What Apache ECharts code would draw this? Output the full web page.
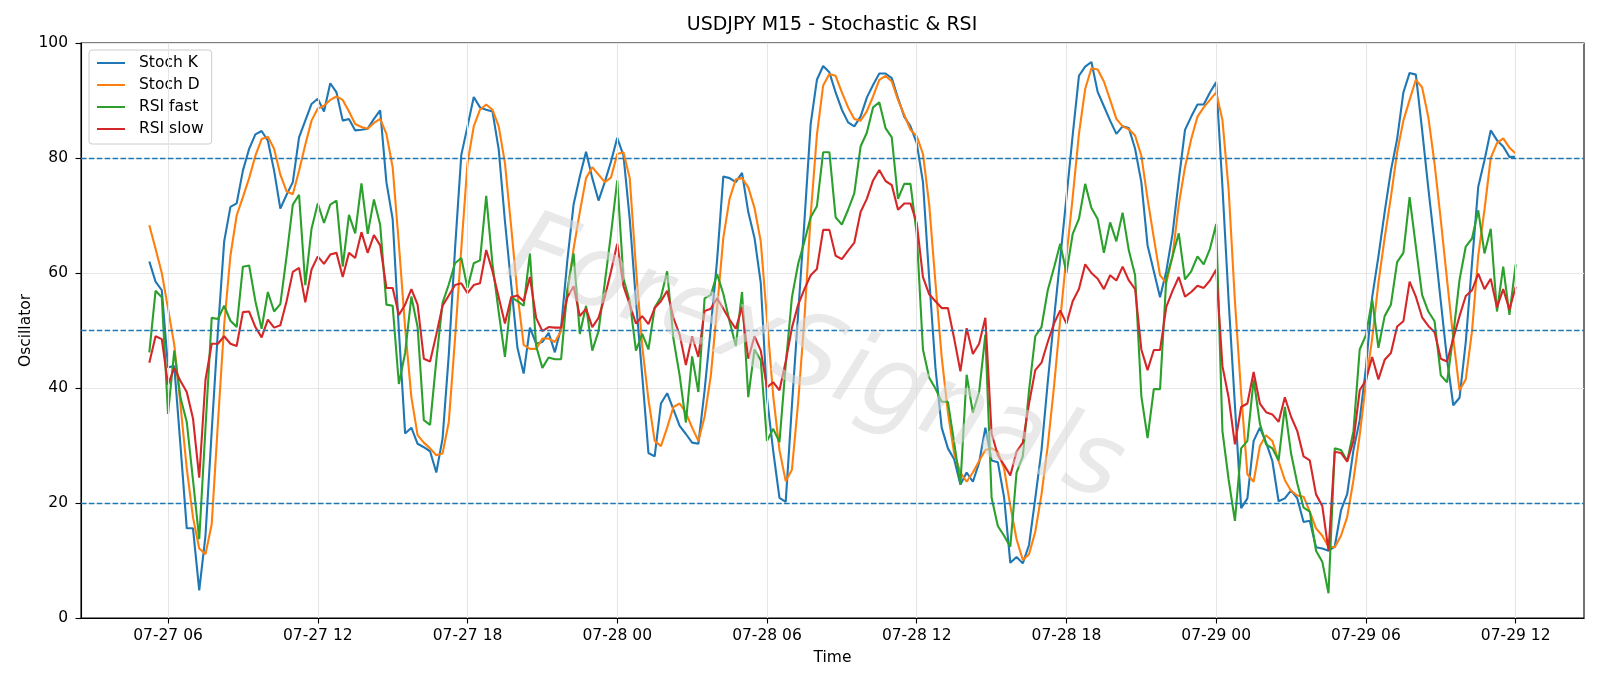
<!DOCTYPE html>
<html>
<head>
<meta charset="utf-8">
<script src="https://cdn.jsdelivr.net/npm/echarts@6/dist/echarts.min.js"></script>
<style>
  html, body { margin: 0; padding: 0; background: #fff; }
  #chart { width: 1600px; height: 686px; }
</style>
</head>
<body>
<div id="chart"></div>
<script>
// 15 minute bars, first bar 07-27 05:15, hours counted from 07-27 00:00
const startHour = 5.25
const stepHour = 0.25

const tickHours = [6, 12, 18, 24, 30, 36, 42, 48, 54, 60]
const tickLabels = ['07-27 06', '07-27 12', '07-27 18', '07-28 00', '07-28 06',
  '07-28 12', '07-28 18', '07-29 00', '07-29 06', '07-29 12']

const levels = [20, 50, 80]

const stochK = [
  62.0, 58.5, 57.0, 43.6, 43.8, 29.9, 15.6, 15.6, 4.8, 14.3,
  32.5, 50.0, 65.5, 71.5, 72.1, 77.8, 81.6, 84.1, 84.7, 83.0,
  77.8, 71.2, 73.6, 75.8, 83.6, 86.5, 89.4, 90.3, 88.1, 93.0,
  91.4, 86.5, 86.8, 84.8, 84.9, 85.1, 86.8, 88.3, 75.8, 69.4,
  50.0, 32.1, 33.1, 30.3, 29.7, 29.0, 25.3, 31.2, 45.8, 64.2,
  80.5, 85.5, 90.6, 88.8, 88.4, 88.1, 81.5, 69.0, 58.0, 47.0,
  42.5, 50.5, 47.7, 48.0, 49.6, 46.2, 50.5, 62.2, 71.9, 76.8,
  81.1, 76.5, 72.6, 75.8, 79.4, 83.5, 80.4, 69.4, 55.1, 42.2,
  28.7, 28.1, 37.3, 39.1, 36.3, 33.4, 32.0, 30.5, 30.3, 39.6,
  50.6, 62.2, 76.8, 76.5, 75.8, 77.4, 70.6, 66.1, 58.3, 38.3,
  29.0, 20.9, 20.2, 37.0, 53.0, 69.0, 85.9, 93.6, 96.0, 94.9,
  91.4, 88.4, 86.2, 85.5, 87.2, 90.5, 92.7, 94.7, 94.7, 93.9,
  90.4, 87.2, 85.5, 82.6, 75.8, 59.0, 43.5, 33.1, 29.5, 27.6,
  23.2, 25.3, 23.7, 27.0, 33.1, 27.4, 27.1, 21.0, 9.6, 10.6,
  9.5, 12.7, 20.8, 29.2, 41.0, 52.0, 62.5, 73.2, 84.0, 94.3,
  95.9, 96.7, 91.5, 89.0, 86.5, 84.2, 85.5, 85.2, 81.6, 75.8,
  64.8, 60.3, 55.8, 60.3, 66.8, 76.1, 84.9, 87.2, 89.3, 89.3,
  91.4, 93.2, 75.0, 55.0, 37.0, 19.1, 20.8, 30.8, 33.1, 30.5,
  27.3, 20.3, 20.8, 22.2, 20.8, 16.7, 16.9, 12.3, 12.1, 11.7,
  12.4, 18.7, 21.6, 29.2, 34.4, 43.5, 55.8, 62.9, 70.6, 77.8,
  83.3, 91.4, 94.8, 94.5, 84.9, 74.7, 65.1, 55.0, 45.0, 37.0,
  38.3, 48.0, 61.7, 75.0, 79.6, 84.8, 83.1, 82.0, 80.2, 80.2
]

const stochD = [
  68.3, 64.2, 60.0, 53.8, 47.5, 37.0, 26.0, 17.5, 12.1, 11.1,
  16.3, 34.0, 51.0, 63.0, 70.0, 73.2, 76.5, 80.4, 83.3, 83.7,
  81.6, 77.1, 74.2, 73.7, 77.8, 82.3, 86.5, 88.6, 89.1, 90.1,
  90.7, 90.1, 88.1, 85.9, 85.4, 85.1, 86.1, 86.8, 84.2, 78.4,
  65.0, 50.5, 38.4, 31.8, 30.5, 29.5, 28.3, 28.6, 34.1, 48.6,
  64.2, 79.1, 85.5, 88.4, 89.3, 88.4, 85.5, 79.1, 68.0, 56.4,
  47.5, 46.8, 46.8, 48.6, 48.6, 48.0, 49.9, 56.4, 64.2, 70.6,
  76.5, 78.4, 77.1, 75.8, 76.6, 80.7, 81.0, 76.5, 60.9, 47.3,
  38.0, 30.8, 29.9, 33.1, 36.7, 37.3, 35.7, 33.1, 30.8, 35.0,
  42.2, 53.8, 66.1, 72.9, 76.3, 76.5, 74.9, 71.3, 65.5, 52.0,
  38.6, 29.2, 23.8, 25.8, 37.6, 52.0, 70.0, 84.0, 92.6, 94.6,
  94.3, 91.4, 88.8, 86.8, 86.5, 88.1, 90.7, 93.6, 94.3, 93.3,
  90.1, 87.5, 84.9, 83.8, 80.7, 71.9, 58.3, 45.4, 35.7, 28.6,
  25.3, 23.7, 25.3, 27.3, 29.2, 29.5, 28.9, 26.0, 19.5, 13.7,
  10.1, 11.1, 15.0, 21.5, 29.9, 40.2, 51.9, 62.9, 73.2, 84.2,
  92.0, 95.6, 95.4, 93.3, 90.1, 86.8, 85.5, 85.0, 83.9, 80.4,
  72.9, 66.1, 59.6, 58.3, 62.9, 71.9, 78.4, 83.3, 87.2, 88.8,
  90.1, 91.4, 86.6, 74.4, 55.1, 39.0, 25.0, 23.7, 29.9, 31.8,
  30.8, 27.3, 24.0, 22.1, 21.3, 21.1, 18.5, 15.6, 14.3, 12.4,
  12.3, 14.3, 17.6, 24.0, 31.8, 40.9, 48.6, 58.3, 66.1, 73.2,
  81.0, 86.5, 90.1, 93.6, 92.3, 87.1, 79.0, 69.2, 58.8, 48.6,
  39.6, 41.5, 49.9, 63.0, 71.0, 80.0, 82.6, 83.4, 81.8, 80.8
]

const rsiFast = [
  46.2, 56.9, 55.8, 35.5, 46.5, 38.3, 34.1, 24.0, 13.7, 33.0,
  52.2, 52.0, 54.3, 51.7, 50.6, 61.1, 61.3, 55.1, 50.3, 56.7,
  53.3, 54.6, 62.9, 71.9, 73.6, 57.9, 67.7, 72.1, 68.7, 71.9,
  72.6, 61.1, 70.1, 66.9, 75.6, 66.8, 72.8, 68.4, 54.5, 54.3,
  40.7, 46.1, 55.9, 50.6, 34.4, 33.6, 44.8, 54.8, 58.0, 61.7,
  62.6, 57.4, 61.7, 62.2, 73.4, 61.6, 53.2, 45.4, 55.8, 55.1,
  54.3, 63.4, 47.3, 43.5, 45.3, 45.0, 45.0, 57.1, 63.4, 49.4,
  54.3, 46.5, 49.9, 58.3, 66.8, 76.1, 59.0, 55.1, 46.5, 49.4,
  46.7, 54.0, 55.8, 60.3, 48.6, 42.2, 34.0, 45.5, 39.3, 55.6,
  56.2, 59.8, 56.4, 51.6, 47.3, 56.7, 38.4, 46.7, 44.8, 30.8,
  32.9, 30.6, 44.0, 55.8, 61.6, 65.5, 69.7, 71.6, 81.0, 81.0,
  69.7, 68.4, 71.0, 73.9, 82.0, 84.4, 88.8, 89.7, 85.2, 83.6,
  72.9, 75.5, 75.5, 66.8, 46.7, 41.8, 39.9, 37.6, 37.6, 30.5,
  23.2, 42.3, 35.7, 39.3, 49.3, 20.9, 16.0, 14.3, 12.4, 25.3,
  28.1, 39.6, 49.0, 50.6, 57.0, 60.9, 65.1, 60.0, 66.8, 69.4,
  75.5, 71.3, 69.4, 63.5, 68.8, 65.5, 70.5, 63.9, 59.6, 38.6,
  31.3, 39.8, 39.8, 59.0, 62.9, 66.9, 58.9, 60.3, 62.9, 61.5,
  64.2, 68.5, 32.5, 24.0, 16.9, 29.5, 30.8, 41.5, 33.8, 30.2,
  29.5, 27.4, 36.7, 28.6, 23.4, 19.2, 18.5, 11.7, 9.8, 4.3,
  29.5, 29.2, 27.3, 32.5, 46.7, 49.2, 55.4, 47.0, 52.5, 54.5,
  61.9, 63.5, 73.2, 64.6, 56.2, 53.3, 51.6, 42.2, 41.0, 49.3,
  58.8, 64.6, 66.0, 70.9, 63.4, 67.7, 53.3, 61.1, 52.7, 61.5
]

const rsiSlow = [
  44.4, 49.0, 48.5, 40.6, 43.5, 41.2, 39.3, 34.7, 24.4, 41.4,
  47.7, 47.7, 49.0, 47.7, 47.3, 53.2, 53.3, 50.6, 48.8, 51.9,
  50.5, 50.9, 55.1, 60.2, 60.9, 54.9, 60.6, 62.9, 61.6, 63.2,
  63.5, 59.3, 63.5, 62.6, 67.1, 63.5, 66.6, 64.8, 57.4, 57.4,
  52.7, 54.5, 57.2, 54.5, 45.1, 44.6, 49.3, 54.3, 56.1, 57.9,
  58.2, 56.5, 57.9, 58.2, 64.0, 60.3, 55.8, 51.2, 55.8, 56.1,
  55.1, 59.3, 52.2, 49.9, 50.6, 50.5, 50.5, 55.8, 57.7, 52.5,
  53.8, 50.6, 52.2, 55.8, 60.3, 65.1, 57.7, 54.5, 51.2, 52.5,
  51.1, 53.9, 55.1, 56.9, 52.2, 49.3, 44.0, 49.0, 45.4, 53.4,
  53.8, 55.6, 53.8, 51.9, 50.3, 54.1, 45.1, 49.0, 46.5, 40.1,
  41.0, 39.6, 44.6, 50.5, 54.5, 57.2, 59.6, 60.7, 67.5, 67.5,
  63.0, 62.4, 63.9, 65.3, 70.6, 72.9, 76.1, 77.9, 76.0, 75.3,
  71.0, 72.1, 72.1, 68.7, 59.3, 56.3, 55.1, 53.9, 53.9, 48.6,
  42.9, 50.4, 45.9, 47.7, 52.2, 32.1, 28.3, 26.6, 24.8, 28.9,
  30.5, 37.3, 43.1, 44.4, 48.0, 51.2, 53.5, 51.2, 55.1, 57.2,
  61.5, 60.0, 59.0, 57.2, 59.6, 58.7, 61.1, 58.7, 57.2, 46.7,
  43.1, 46.6, 46.6, 54.1, 56.9, 59.3, 55.9, 56.7, 57.8, 57.4,
  58.7, 60.6, 43.8, 38.3, 30.2, 36.7, 37.3, 42.8, 37.3, 35.8,
  35.4, 34.1, 38.4, 35.0, 32.5, 28.1, 27.4, 21.5, 19.5, 11.7,
  28.9, 28.7, 27.2, 30.8, 39.6, 41.4, 45.4, 41.5, 44.9, 46.1,
  50.7, 51.6, 58.5, 55.9, 52.3, 50.8, 49.7, 45.1, 44.6, 48.6,
  52.5, 56.0, 57.0, 59.9, 57.2, 59.0, 54.0, 57.2, 53.6, 57.6
]

const names = ['Stoch K', 'Stoch D', 'RSI fast', 'RSI slow']
const colors = ['#1f77b4', '#ff7f0e', '#2ca02c', '#d62728']
const font = 'DejaVu Sans'
const fs = 15.5

const hourOf = (i) => startHour + i * stepHour
const pairs = (arr) => arr.map((v, i) => [hourOf(i), v])

// matplotlib style 5% margin on the time axis
const firstHour = hourOf(0)
const lastHour = hourOf(stochK.length - 1)
const pad = (lastHour - firstHour) * 0.05

const chart = echarts.init(document.getElementById('chart'), null, {renderer: 'canvas'})

const lineSeries = [stochK, stochD, rsiFast, rsiSlow].map((arr, k) => ({
  name: names[k],
  type: 'line',
  data: pairs(arr),
  showSymbol: false,
  symbol: 'none',
  color: colors[k],
  lineStyle: {width: 2.1, color: colors[k]},
  z: 3
}))

// level lines on the first series
lineSeries[0].markLine = {
  silent: true,
  symbol: 'none',
  label: {show: false},
  lineStyle: {color: '#1f77b4', type: [5.5, 2.4], width: 1.4},
  data: levels.map(v => ({yAxis: v}))
}

// vertical grid lines at the time ticks
const gridSeries = {
  name: 'grid',
  type: 'line',
  data: [],
  z: 1,
  markLine: {
    silent: true,
    symbol: 'none',
    label: {show: false},
    lineStyle: {color: '#e6e6e6', type: 'solid', width: 1.1},
    data: tickHours.map(h => ({xAxis: h}))
  }
}

chart.setOption({
  animation: false,
  backgroundColor: '#ffffff',
  title: {
    text: 'USDJPY M15 - Stochastic & RSI',
    left: 832,
    top: 16,
    padding: 0,
    textAlign: 'center',
    textStyle: {fontFamily: font, fontSize: 19, fontWeight: 'normal', color: '#000'}
  },
  legend: {
    data: names,
    orient: 'vertical',
    left: 89,
    top: 50,
    itemWidth: 28,
    itemHeight: 14,
    itemGap: 6,
    padding: [5, 8, 7, 7],
    backgroundColor: 'rgba(255,255,255,0.8)',
    borderColor: '#cccccc',
    borderWidth: 1,
    borderRadius: 3,
    selectedMode: false,
    itemStyle: {opacity: 0},
    textStyle: {fontFamily: font, fontSize: fs, color: '#000', padding: [0, 0, 0, 9]}
  },
  grid: {
    left: 81, right: 16, top: 43, bottom: 68,
    show: true, borderColor: '#000', borderWidth: 1.1, backgroundColor: 'transparent'
  },
  xAxis: {
    type: 'value',
    min: firstHour - pad,
    max: lastHour + pad,
    name: 'Time',
    nameLocation: 'middle',
    nameGap: 32,
    nameMoveOverlap: false,
    nameTextStyle: {fontFamily: font, fontSize: fs, color: '#000'},
    axisLine: {show: true, lineStyle: {color: '#000', width: 1.1}},
    axisTick: {show: true, length: 5.5, customValues: tickHours, lineStyle: {color: '#000', width: 1.1}},
    axisLabel: {
      customValues: tickHours,
      margin: 10,
      fontFamily: font, fontSize: fs, color: '#000',
      formatter: (v) => tickLabels[tickHours.indexOf(v)] || ''
    },
    splitLine: {show: false}
  },
  yAxis: {
    type: 'value',
    min: 0, max: 100, interval: 20,
    name: 'Oscillator',
    nameLocation: 'middle',
    nameGap: 47,
    nameRotate: 90,
    nameMoveOverlap: false,
    nameTextStyle: {fontFamily: font, fontSize: fs, color: '#000'},
    axisLine: {show: true, lineStyle: {color: '#000', width: 1.1}},
    axisTick: {show: true, length: 5.5, lineStyle: {color: '#000', width: 1.1}},
    axisLabel: {margin: 13, fontFamily: font, fontSize: fs, color: '#000'},
    splitLine: {show: true, lineStyle: {color: '#e6e6e6', width: 1.1}}
  },
  graphic: [{
    type: 'text',
    x: 815, y: 362,
    rotation: -0.36,
    z: 100,
    silent: true,
    style: {
      text: 'ForexSignals',
      font: 'italic 101px "DejaVu Sans"',
      fill: 'rgba(215,215,215,0.55)',
      align: 'center',
      verticalAlign: 'middle',
      textAlign: 'center',
      textVerticalAlign: 'middle',
      shadowColor: 'rgba(100,100,100,0.55)',
      shadowOffsetX: 4,
      shadowOffsetY: 4,
      shadowBlur: 3
    }
  }],
  series: [gridSeries].concat(lineSeries)
})
</script>
</body>
</html>
